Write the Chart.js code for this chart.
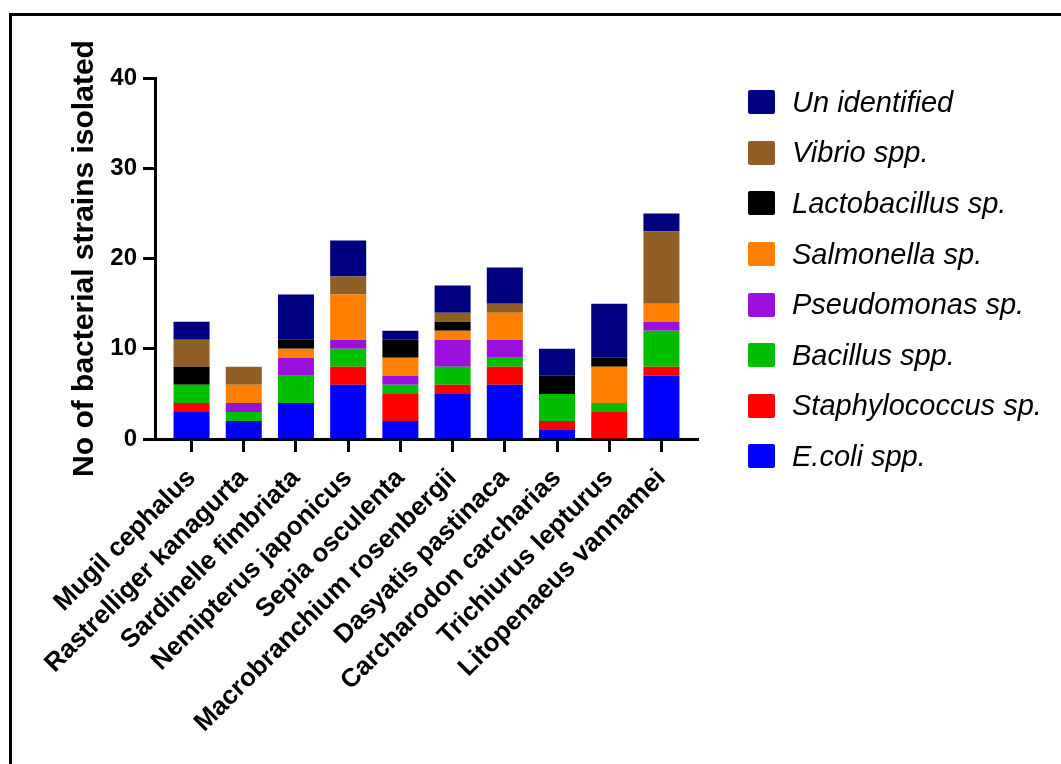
<!DOCTYPE html>
<html lang="en">
<head>
  <meta charset="UTF-8" />
  <title>Bacterial strains isolated</title>
  <script src="https://cdn.jsdelivr.net/npm/chart.js"></script>
  <style>
    body {
      margin: 0;
      background: white;
      font-family: 'Liberation Sans', Arial, sans-serif;
    }

    .wrap {
      position: relative;
      width: 1061px;
      height: 764px;
      overflow: hidden;
    }

    .frame {
      position: absolute;
      left: 9px;
      top: 13px;
      right: -10px;
      bottom: -10px;
      border-top: 3px solid black;
      border-left: 3px solid black;
      pointer-events: none;
    }

    canvas {
      position: absolute;
      left: 0;
      top: 0;
    }

    .legend {
      position: absolute;
      left: 748px;
      top: 77px;
    }

    .legend .item {
      display: flex;
      align-items: center;
      height: 50.6px;
      font-style: italic;
      font-size: 29px;
      color: black;
      white-space: nowrap;
    }

    .legend .box {
      width: 27px;
      height: 24px;
      border-radius: 2px;
      margin-right: 17px;
    }
  </style>
</head>

<body>
  <div class="wrap">
    <canvas id="strainChart" width="1061" height="764"></canvas>
    <div class="legend" id="legend"></div>
    <div class="frame"></div>
  </div>

  <script>
    const species = [
      "Mugil cephalus", "Rastrelliger kanagurta", "Sardinelle fimbriata",
      "Nemipterus japonicus", "Sepia osculenta", "Macrobranchium rosenbergii",
      "Dasyatis pastinaca", "Carcharodon carcharias", "Trichiurus lepturus",
      "Litopenaeus vannamei"
    ];

    // stacked from the bottom up
    const ecoli          = [3, 2, 4, 6, 2, 5, 6, 1, 0, 7];
    const staphylococcus = [1, 0, 0, 2, 3, 1, 2, 1, 3, 1];
    const bacillus       = [2, 1, 3, 2, 1, 2, 1, 3, 1, 4];
    const pseudomonas    = [0, 1, 2, 1, 1, 3, 2, 0, 0, 1];
    const salmonella     = [0, 2, 1, 5, 2, 1, 3, 0, 4, 2];
    const lactobacillus  = [2, 0, 1, 0, 2, 1, 0, 2, 1, 0];
    const vibrio         = [3, 2, 0, 2, 0, 1, 1, 0, 0, 8];
    const unidentified   = [2, 0, 5, 4, 1, 3, 4, 3, 6, 2];

    const yTicks = [0, 10, 20, 30, 40];

    const series = [
      { label: "E.coli spp.", data: ecoli, color: "#0000ff" },
      { label: "Staphylococcus sp.", data: staphylococcus, color: "#ff0000" },
      { label: "Bacillus spp.", data: bacillus, color: "#00bf00" },
      { label: "Pseudomonas sp.", data: pseudomonas, color: "#9c0fdc" },
      { label: "Salmonella sp.", data: salmonella, color: "#ff8000" },
      { label: "Lactobacillus sp.", data: lactobacillus, color: "#000000" },
      { label: "Vibrio spp.", data: vibrio, color: "#8f5f26" },
      { label: "Un identified", data: unidentified, color: "#000080" }
    ];

    const W = 1061, H = 764;
    const plotLeft = 155, plotBottom = 439, plotRight = 698, plotTop = 78;
    const font = "'Liberation Sans', Arial, sans-serif";

    const ctx = document.getElementById("strainChart").getContext("2d");
    new Chart(ctx, {
      type: "bar",
      data: {
        datasets: series.map(s => ({
          label: s.label,
          data: s.data.map((v, i) => ({ x: i, y: v })),
          backgroundColor: s.color,
          borderWidth: 0,
          barPercentage: 0.69,
          categoryPercentage: 1
        }))
      },
      options: {
        responsive: false,
        animation: false,
        layout: {
          padding: { left: 0, top: plotTop, right: W - plotRight, bottom: 0 }
        },
        plugins: {
          legend: { display: false },
          tooltip: { enabled: false }
        },
        scales: {
          x: {
            type: "linear",
            stacked: true,
            offset: false,
            min: -0.7,
            max: 9.7,
            afterBuildTicks: scale => {
              scale.ticks = species.map((_, i) => ({ value: i }));
            },
            afterFit: scale => { scale.height = H - plotBottom; },
            grid: {
              offset: false,
              drawOnChartArea: false,
              drawTicks: true,
              tickLength: 13,
              tickWidth: 3,
              tickColor: "black"
            },
            border: { display: true, color: "black", width: 3 },
            ticks: {
              autoSkip: false,
              minRotation: 45,
              maxRotation: 45,
              padding: 11,
              color: "black",
              font: { family: font, size: 26, weight: "bold" },
              callback: v => species[v]
            }
          },
          y: {
            stacked: true,
            min: 0,
            max: 40,
            afterBuildTicks: scale => {
              scale.ticks = yTicks.map(v => ({ value: v }));
            },
            afterFit: scale => { scale.width = plotLeft; },
            grid: {
              drawOnChartArea: false,
              drawTicks: true,
              tickLength: 12,
              tickWidth: 3,
              tickColor: "black"
            },
            border: { display: true, color: "black", width: 3 },
            ticks: {
              padding: 6,
              color: "black",
              font: { family: font, size: 24, weight: "bold" }
            },
            title: {
              display: true,
              text: "No of bacterial strains isolated",
              color: "black",
              padding: { top: 67, bottom: 0 },
              font: { family: font, size: 30, weight: "bold" }
            }
          }
        }
      }
    });

    // legend, top entry = top of the stack
    const legend = document.getElementById("legend");
    series.slice().reverse().forEach(s => {
      const item = document.createElement("div");
      item.className = "item";
      const box = document.createElement("span");
      box.className = "box";
      box.style.background = s.color;
      item.appendChild(box);
      item.appendChild(document.createTextNode(s.label));
      legend.appendChild(item);
    });
  </script>
</body>
</html>
